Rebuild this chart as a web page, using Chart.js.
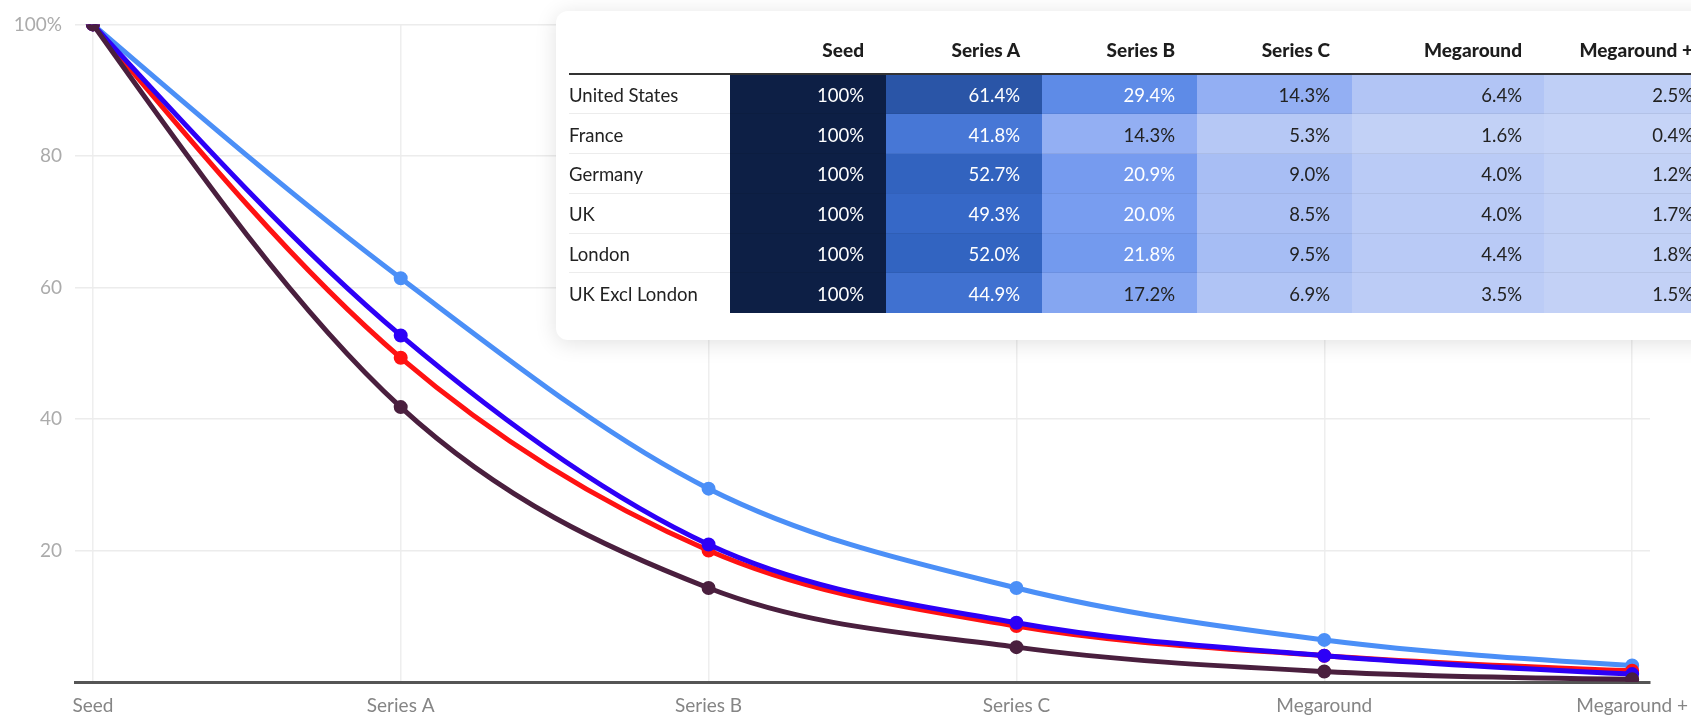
<!DOCTYPE html>
<html>
<head>
<meta charset="utf-8">
<script src="https://cdn.jsdelivr.net/npm/chart.js@4/dist/chart.umd.min.js"></script>
<style>
    html, body { margin: 0; padding: 0; background: #fff; }
    body { width: 1691px; height: 718px; position: relative; overflow: hidden; font-family: Lato, 'Noto Sans', sans-serif; }
    #chart-wrap { position: absolute; left: 0; top: 0; width: 1691px; height: 718px; }
    .table-card {
        position: absolute; left: 556px; top: 11px; width: 1200px; height: 329px;
        background: #fff; border-radius: 12px;
        box-shadow: 0 3px 22px rgba(0, 0, 0, 0.12);
    }
    .table-card table {
        position: absolute; left: 13px; top: 0;
        border-collapse: collapse; table-layout: fixed;
        font-size: 18.5px; color: #222;
    }
    .table-card th {
        height: 63px; padding: 0 22px 12px 0; text-align: right; vertical-align: bottom;
        box-sizing: border-box;
        font-weight: 900; font-size: 19px; color: #1d1d1d;
        border-bottom: 2.5px solid #333;
    }
    .table-card td {
        height: 39.8px; padding: 2px 22px 0 0; text-align: right; vertical-align: middle;
        box-sizing: border-box;
        border-bottom: 1px solid rgba(0, 0, 0, 0.06);
    }
    .table-card td.region { text-align: left; padding-left: 0; color: #222; border-bottom: 1px solid #ececec; }
    .table-card tr:last-child td { border-bottom: none; }
</style>
</head>
<body>
<div id="chart-wrap"><canvas id="chart"></canvas></div>
<div class="table-card"><table id="stats"></table></div>
<script>
// funding rounds, share of seed-funded companies still raising (%)
const rounds = ['Seed', 'Series A', 'Series B', 'Series C', 'Megaround', 'Megaround +'];
const unitedStates = [100, 61.4, 29.4, 14.3, 6.4, 2.5];
const france = [100, 41.8, 14.3, 5.3, 1.6, 0.4];
const germany = [100, 52.7, 20.9, 9.0, 4.0, 1.2];
const uk = [100, 49.3, 20.0, 8.5, 4.0, 1.7];
const london = [100, 52.0, 21.8, 9.5, 4.4, 1.8];
const ukExclLondon = [100, 44.9, 17.2, 6.9, 3.5, 1.5];
const yTicks = [0, 20, 40, 60, 80, 100];

const regions = ['United States', 'France', 'Germany', 'UK', 'London', 'UK Excl London'];
const regionValues = [unitedStates, france, germany, uk, london, ukExclLondon];

// ---- heat table ----
const colWidths = [161, 156, 156, 155, 155, 192, 171];
// value -> fill colour stops
const colorStops = [
    [0, [199, 213, 247]],
    [2, [193, 208, 246]],
    [4, [186, 203, 246]],
    [6, [180, 198, 245]],
    [9, [168, 190, 244]],
    [14, [148, 176, 243]],
    [20, [120, 157, 240]],
    [29, [95, 140, 232]],
    [42, [71, 119, 214]],
    [50, [52, 103, 198]],
    [61, [42, 86, 168]],
    [100, [13, 31, 69]]
];
function cellColor(v) {
    for (let i = 1; i < colorStops.length; i++) {
        const [v1, c1] = colorStops[i];
        const [v0, c0] = colorStops[i - 1];
        if (v <= v1) {
            const t = (v - v0) / (v1 - v0);
            const c = c0.map((x, k) => Math.round(x + (c1[k] - x) * t));
            return `rgb(${c.join(',')})`;
        }
    }
    return 'rgb(13,31,69)';
}

const table = document.getElementById('stats');
let html = '<colgroup>' + colWidths.map(w => `<col style="width:${w}px">`).join('') + '</colgroup>';
html += '<thead><tr><th></th>' + rounds.map(r => `<th>${r}</th>`).join('') + '</tr></thead><tbody>';
regions.forEach((name, ri) => {
    html += `<tr><td class="region">${name}</td>`;
    regionValues[ri].forEach(v => {
        const label = v === 100 ? '100%' : v.toFixed(1) + '%';
        const fg = v >= 19.5 ? '#fff' : '#222';
        html += `<td style="background:${cellColor(v)};color:${fg}">${label}</td>`;
    });
    html += '</tr>';
});
html += '</tbody>';
table.innerHTML = html;

// ---- line chart ----
const toPoints = arr => arr.map((v, i) => ({ x: i, y: v }));
const series = [
    { label: 'France', data: france, color: '#4a1f3e' },
    { label: 'Germany', data: germany, color: '#2d00f7' },
    { label: 'UK', data: uk, color: '#ff1212' },
    { label: 'United States', data: unitedStates, color: '#4b8ff7' }
];

// monotone curves: bend the end segments too (one-sided tangent at the first/last point)
const monotoneEnds = {
    id: 'monotoneEnds',
    beforeDatasetDraw(chart, args) {
        const meta = args.meta;
        const pts = meta.data;
        const n = pts.length;
        if (n < 3) return;
        meta.dataset.updateControlPoints(chart.chartArea, meta.iScale.axis);

        const a = pts[0], b = pts[1];
        let h = b.x - a.x;
        let s = (b.y - a.y) / h;
        let m = (b.y - b.cp1y) / (b.x - b.cp1x);
        let t = (3 * s - m) / 2;
        a.cp2x = a.x + h / 3;
        a.cp2y = a.y + t * h / 3;

        const y = pts[n - 2], z = pts[n - 1];
        h = z.x - y.x;
        s = (z.y - y.y) / h;
        m = (y.cp2y - y.y) / (y.cp2x - y.x);
        t = (3 * s - m) / 2;
        z.cp1x = z.x - h / 3;
        z.cp1y = z.y - t * h / 3;
    }
};

const canvas = document.getElementById('chart');
new Chart(canvas, {
    type: 'line',
    data: {
        datasets: series.map(s => ({
            label: s.label,
            data: toPoints(s.data),
            borderColor: s.color,
            backgroundColor: s.color,
            borderWidth: 5,
            pointRadius: 4.5,
            pointHoverRadius: 4.5,
            cubicInterpolationMode: 'monotone',
            fill: false
        }))
    },
    plugins: [monotoneEnds],
    options: {
        responsive: true,
        maintainAspectRatio: false,
        animation: false,
        layout: { padding: { top: 18, right: 41, left: 0, bottom: 0 } },
        plugins: { legend: { display: false }, tooltip: { enabled: false } },
        scales: {
            x: {
                type: 'linear',
                min: -0.058,
                max: rounds.length - 1 + 0.058,
                afterBuildTicks: scale => { scale.ticks = rounds.map((_, i) => ({ value: i })); },
                afterFit: scale => {
                    scale.height = 36;
                    // let the last label run to the page edge instead of shrinking the plot
                    scale.paddingLeft = 0;
                    scale.paddingRight = 0;
                },
                ticks: {
                    callback: v => rounds[v] ?? '',
                    color: '#858585',
                    padding: 12,
                    maxRotation: 0,
                    autoSkip: false,
                    font: { family: 'Lato', size: 19 }
                },
                grid: { color: '#eeeeee', lineWidth: 1.5, drawTicks: false },
                border: { display: true, color: '#555', width: 3 }
            },
            y: {
                min: 0,
                max: 100,
                afterBuildTicks: scale => { scale.ticks = yTicks.map(v => ({ value: v })); },
                afterFit: scale => { scale.width = 75; },
                ticks: {
                    callback: v => v === 100 ? '100%' : (v === 0 ? '' : v),
                    color: '#ababab',
                    padding: 13,
                    font: { family: 'Lato', size: 19 }
                },
                grid: { color: '#ececec', lineWidth: 1.5, drawTicks: false },
                border: { display: false }
            }
        }
    }
});
</script>
</body>
</html>
